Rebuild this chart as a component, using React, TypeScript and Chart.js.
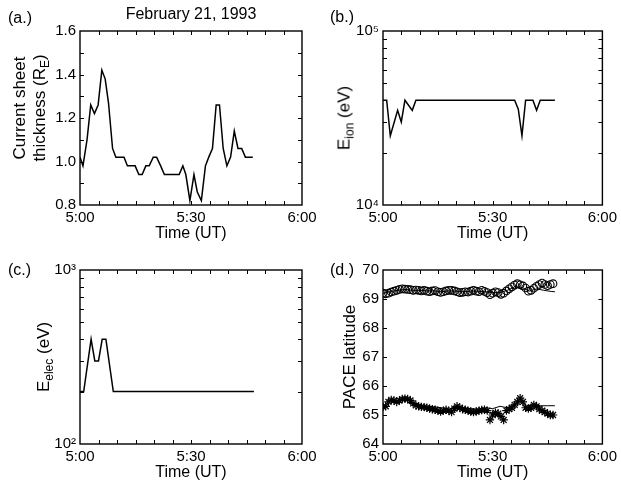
import React, { useEffect, useRef } from 'react';
import { Chart, registerables } from 'chart.js';
Chart.register(...registerables);

const W = 621;
const H = 485;
const FONT = "'Liberation Sans', Arial, Helvetica, sans-serif";

// ---- shared time axis (minutes after 5:00 UT) ----
const xTickMarks = [0, 5, 10, 15, 20, 25, 30, 35, 40, 45, 50, 55, 60];
const xLabelValues = [0, 30, 60];
const xLabels = ['5:00', '5:30', '6:00'];

// ---- (a) current sheet thickness ----
const thickTime = [0, 0.8, 1.9, 2.9, 3.9, 4.9, 5.9, 6.8, 7.7, 8.8, 9.7, 10.8, 11.9, 12.8, 13.9, 14.9, 15.9, 16.8, 17.8, 18.7, 19.8, 20.7, 21.8, 22.8, 23.8, 24.8, 25.8, 26.8, 27.8, 28.6, 29.7, 30.8, 31.7, 32.8, 33.9, 34.8, 35.8, 36.8, 37.7, 38.7, 39.7, 40.7, 41.7, 42.7, 43.7, 44.7, 45.7, 46.7];
const thickness = [1.02, 0.98, 1.10, 1.26, 1.22, 1.26, 1.42, 1.38, 1.27, 1.06, 1.02, 1.02, 1.02, 0.98, 0.98, 0.98, 0.94, 0.94, 0.98, 0.98, 1.02, 1.02, 0.98, 0.94, 0.94, 0.94, 0.94, 0.94, 0.98, 0.94, 0.82, 0.94, 0.86, 0.82, 0.98, 1.02, 1.06, 1.26, 1.26, 1.06, 0.98, 1.02, 1.14, 1.06, 1.06, 1.02, 1.02, 1.02];
const thickTickMarks = [0.8, 0.9, 1.0, 1.1, 1.2, 1.3, 1.4, 1.5, 1.6];
const thickLabelValues = [0.8, 1.0, 1.2, 1.4, 1.6];
const thickLabels = ['0.8', '1.0', '1.2', '1.4', '1.6'];

// ---- (b) ion energy ----
const ionTime = [0, 1, 2, 4, 5, 6, 8, 9, 36, 37, 38, 39, 41, 42, 43, 47];
const ionEnergy = [40000, 40000, 25000, 35000, 30000, 40000, 35000, 40000, 40000, 35500, 25000, 40000, 40000, 35000, 40000, 40000];
const ionTickMarks = [10000, 20000, 30000, 40000, 50000, 60000, 70000, 80000, 90000, 100000];
const ionLabelValues = [10000, 100000];
const ionLabels = ['10\u2074', '10\u2075'];

// ---- (c) electron energy ----
const elecTime = [0, 1, 3, 4, 5, 6, 7, 9, 47];
const elecEnergy = [200, 200, 400, 300, 300, 400, 400, 200, 200];
const elecTickMarks = [100, 200, 300, 400, 500, 600, 700, 800, 900, 1000];
const elecLabelValues = [100, 1000];
const elecLabels = ['10\u00B2', '10\u00B3'];

// ---- (d) PACE latitude ----
const paceTime = [0, 0.75, 1.5, 2.25, 3, 3.75, 4.5, 5.25, 6, 6.75, 7.5, 8.25, 9, 9.75, 10.5, 11.25, 12, 12.75, 13.5, 14.25, 15, 15.75, 16.5, 17.25, 18, 18.75, 19.5, 20.25, 21, 21.75, 22.5, 23.25, 24, 24.75, 25.5, 26.25, 27, 27.75, 28.5, 29.25, 30, 30.75, 31.5, 32.25, 33, 33.75, 34.5, 35.25, 36, 36.75, 37.5, 38.25, 39, 39.75, 40.5, 41.25, 42, 42.75, 43.5, 44.25, 45, 45.75, 46.5];
const upperLat = [69.20, 69.18, 69.20, 69.24, 69.27, 69.30, 69.33, 69.35, 69.34, 69.33, 69.32, 69.30, 69.31, 69.30, 69.28, 69.30, 69.27, 69.25, 69.28, 69.29, 69.25, 69.23, 69.25, 69.28, 69.30, 69.30, 69.28, 69.25, 69.22, 69.23, 69.25, 69.24, 69.27, 69.30, 69.27, 69.25, 69.30, 69.26, 69.22, 69.15, 69.20, 69.25, 69.22, 69.16, 69.20, 69.28, 69.35, 69.42, 69.48, 69.53, 69.49, 69.45, 69.38, 69.27, 69.30, 69.37, 69.44, 69.50, 69.55, 69.50, 69.46, 69.50, 69.53];
const lowerLat = [65.28, 65.30, 65.45, 65.52, 65.50, 65.45, 65.50, 65.55, 65.56, 65.55, 65.50, 65.40, 65.33, 65.30, 65.28, 65.27, 65.25, 65.22, 65.20, 65.18, 65.15, 65.12, 65.15, 65.18, 65.15, 65.10, 65.22, 65.30, 65.25, 65.20, 65.18, 65.15, 65.12, 65.10, 65.12, 65.15, 65.17, 65.18, 65.15, 64.83, 65.00, 65.08, 65.05, 64.95, 64.83, 65.15, 65.20, 65.25, 65.35, 65.45, 65.58, 65.45, 65.25, 65.22, 65.25, 65.35, 65.30, 65.20, 65.15, 65.10, 65.05, 65.00, 65.00];
const upperLineTime = [0, 2, 4, 6, 8, 10, 12, 14, 16, 18, 20, 22, 24, 26, 28, 30, 32, 34, 36, 38, 40, 42, 44, 46, 47];
const upperLine = [69.20, 69.25, 69.30, 69.33, 69.30, 69.30, 69.28, 69.28, 69.25, 69.28, 69.27, 69.25, 69.27, 69.27, 69.25, 69.22, 69.22, 69.30, 69.42, 69.40, 69.27, 69.35, 69.30, 69.26, 69.25];
const lowerLineTime = [0, 2, 4, 6, 8, 10, 12, 14, 16, 18, 20, 22, 24, 26, 28, 30, 32, 34, 36, 37.5, 39, 41, 43, 45, 47];
const lowerLine = [65.30, 65.50, 65.50, 65.55, 65.45, 65.30, 65.30, 65.28, 65.25, 65.20, 65.30, 65.25, 65.22, 65.20, 65.25, 65.22, 65.30, 65.25, 65.35, 65.55, 65.30, 65.35, 65.32, 65.32, 65.32];
const latTickMarks = [64, 65, 66, 67, 68, 69, 70];
const latLabelValues = [64, 65, 66, 67, 68, 69, 70];
const latLabels = ['64', '65', '66', '67', '68', '69', '70'];

const pts = (xs: number[], ys: number[]) => ys.map((y, i) => ({ x: xs[i], y }));

const lineDs = (xs: number[], ys: number[], width = 1.5) => ({
  data: pts(xs, ys),
  borderColor: '#000',
  borderWidth: width,
  pointRadius: 0,
  tension: 0,
  fill: false,
});

type Box = { L: number; T: number; R: number; B: number };
type Spec = {
  box: Box;
  datasets: any[];
  yType: 'linear' | 'logarithmic';
  yMin: number;
  yMax: number;
  yStep?: number;
  yTickMarks: number[];
  yLabelValues: number[];
  yLabels: string[];
  yTitle?: string;
  yTitleCenterX?: number;
};

const findLabel = (v: number, vals: number[], labels: string[]) => {
  for (let i = 0; i < vals.length; i++) {
    if (Math.abs(v - vals[i]) < 1e-6 * Math.max(1, Math.abs(vals[i]))) return labels[i];
  }
  return '';
};

function Panel({ spec }: { spec: Spec }) {
  const ref = useRef<HTMLCanvasElement>(null);
  useEffect(() => {
    const { L, T, R, B } = spec.box;
    const XH = 38;
    const YW = spec.yTitle ? L - ((spec.yTitleCenterX as number) - 9.6) : 60;
    const frame = {
      id: 'frame' + Math.random().toString(36).slice(2),
      afterDraw(chart: any) {
        const { ctx, chartArea: a, scales } = chart;
        ctx.save();
        ctx.strokeStyle = '#000';
        ctx.lineWidth = 1.4;
        ctx.strokeRect(a.left, a.top, a.right - a.left, a.bottom - a.top);
        const len = 4;
        ctx.lineWidth = 1;
        ctx.beginPath();
        for (const v of xTickMarks) {
          const p = Math.round(scales.x.getPixelForValue(v)) + 0.5;
          if (p <= a.left + 1 || p >= a.right - 1) continue;
          ctx.moveTo(p, a.bottom);
          ctx.lineTo(p, a.bottom - len);
          ctx.moveTo(p, a.top);
          ctx.lineTo(p, a.top + len);
        }
        for (const v of spec.yTickMarks) {
          const p = Math.round(scales.y.getPixelForValue(v)) + 0.5;
          if (p <= a.top + 1 || p >= a.bottom - 1) continue;
          ctx.moveTo(a.left, p);
          ctx.lineTo(a.left + len, p);
          ctx.moveTo(a.right, p);
          ctx.lineTo(a.right - len, p);
        }
        ctx.stroke();
        ctx.restore();
      },
    };
    const chart = new Chart(ref.current as HTMLCanvasElement, {
      type: 'line',
      data: { datasets: spec.datasets },
      options: {
        animation: false,
        responsive: false,
        devicePixelRatio: 1,
        layout: { padding: { left: L - YW, top: T, right: W - R, bottom: H - B - XH } },
        plugins: { legend: { display: false }, tooltip: { enabled: false } },
        scales: {
          x: {
            type: 'linear',
            min: 0,
            max: 60,
            grid: { display: false, drawTicks: false },
            border: { display: false },
            ticks: {
              stepSize: 5,
              autoSkip: false,
              maxRotation: 0,
              padding: 4,
              color: '#000',
              font: { family: FONT, size: 15 },
              callback: (v: any) => findLabel(Number(v), xLabelValues, xLabels),
            },
            title: { display: true, text: 'Time (UT)', color: '#000', padding: 0, font: { family: FONT, size: 16 } },
            afterFit: (s: any) => { s.height = XH; },
          },
          y: {
            type: spec.yType,
            min: spec.yMin,
            max: spec.yMax,
            grid: { display: false, drawTicks: false },
            border: { display: false },
            ticks: {
              stepSize: spec.yStep,
              autoSkip: false,
              padding: 4,
              color: '#000',
              font: { family: FONT, size: 15 },
              callback: (v: any) => findLabel(Number(v), spec.yLabelValues, spec.yLabels),
            },
            title: spec.yTitle
              ? { display: true, text: spec.yTitle, color: '#000', padding: 0, font: { family: FONT, size: 17 } }
              : { display: false },
            afterFit: (s: any) => { s.width = YW; },
          },
        },
      } as any,
      plugins: [frame],
    });
    return () => chart.destroy();
  }, []);
  return <canvas ref={ref} width={W} height={H} style={{ position: 'absolute', left: 0, top: 0 }} />;
}

const specA: Spec = {
  box: { L: 80, T: 31, R: 302, B: 205 },
  datasets: [lineDs(thickTime, thickness)],
  yType: 'linear', yMin: 0.8, yMax: 1.6, yStep: 0.1,
  yTickMarks: thickTickMarks, yLabelValues: thickLabelValues, yLabels: thickLabels,
};
const specB: Spec = {
  box: { L: 383, T: 31, R: 604, B: 205 },
  datasets: [lineDs(ionTime, ionEnergy)],
  yType: 'logarithmic', yMin: 10000, yMax: 100000,
  yTickMarks: ionTickMarks, yLabelValues: ionLabelValues, yLabels: ionLabels,
};
const specC: Spec = {
  box: { L: 80, T: 270, R: 302, B: 444 },
  datasets: [lineDs(elecTime, elecEnergy)],
  yType: 'logarithmic', yMin: 100, yMax: 1000,
  yTickMarks: elecTickMarks, yLabelValues: elecLabelValues, yLabels: elecLabels,
};
const specD: Spec = {
  box: { L: 383, T: 270, R: 604, B: 444 },
  datasets: [
    lineDs(upperLineTime, upperLine, 1),
    {
      data: pts(paceTime, upperLat), showLine: false, pointStyle: 'circle', pointRadius: 3.8,
      pointBorderColor: '#000', pointBackgroundColor: 'rgba(0,0,0,0)', pointBorderWidth: 1.1,
      borderColor: '#000',
    },
    lineDs(lowerLineTime, lowerLine, 1),
    {
      data: pts(paceTime, lowerLat), showLine: false, pointStyle: 'star', pointRadius: 4.2,
      pointBorderColor: '#000', pointBackgroundColor: '#000', pointBorderWidth: 1.2,
      borderColor: '#000',
    },
  ],
  yType: 'linear', yMin: 64, yMax: 70, yStep: 1,
  yTickMarks: latTickMarks, yLabelValues: latLabelValues, yLabels: latLabels,
  yTitle: 'PACE latitude', yTitleCenterX: 350,
};

const txt: React.CSSProperties = {
  position: 'absolute', fontFamily: FONT, fontSize: 16, color: '#000', whiteSpace: 'nowrap', lineHeight: '18px',
};
const rot = (cx: number, cy: number): React.CSSProperties => ({
  ...txt, fontSize: 17, left: cx, top: cy, transform: 'translate(-50%, -50%) rotate(-90deg)', textAlign: 'center',
});
const subStyle: React.CSSProperties = { fontSize: 12, position: 'relative', top: 4, verticalAlign: 'baseline' };

export default function App() {
  return (
    <div style={{ position: 'fixed', left: 0, top: 0, width: W, height: H, background: '#fff', overflow: 'hidden' }}>
      <Panel spec={specA} />
      <Panel spec={specB} />
      <Panel spec={specC} />
      <Panel spec={specD} />
      <div style={{ ...txt, left: 191, top: 5, transform: 'translateX(-50%)' }}>February 21, 1993</div>
      <div style={{ ...txt, left: 8, top: 9 }}>(a.)</div>
      <div style={{ ...txt, left: 330, top: 8 }}>(b.)</div>
      <div style={{ ...txt, left: 8, top: 261 }}>(c.)</div>
      <div style={{ ...txt, left: 330, top: 261 }}>(d.)</div>
      <div style={{ ...rot(30, 108), lineHeight: '20px' }}>
        <div>Current sheet</div>
        <div>thickness (R<span style={subStyle}>E</span>)</div>
      </div>
      <div style={rot(345, 118)}>E<span style={subStyle}>ion</span> (eV)</div>
      <div style={rot(44, 357)}>E<span style={subStyle}>elec</span> (eV)</div>
    </div>
  );
}
